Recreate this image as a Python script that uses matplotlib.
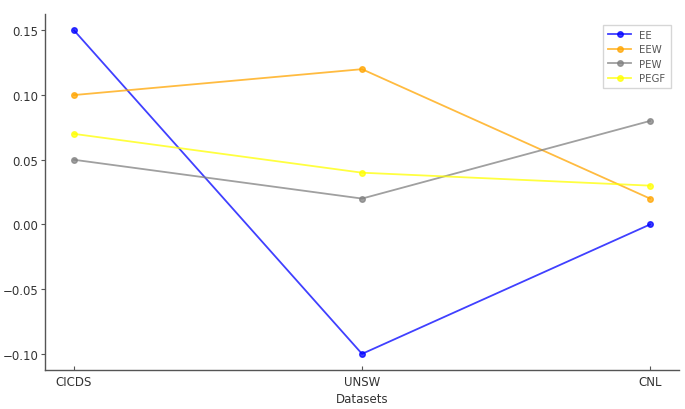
import matplotlib
matplotlib.use("Agg")
import matplotlib.pyplot as plt

datasets = ["CICDS", "UNSW", "CNL"]
ee = [0.15, -0.10, 0.00]
eew = [0.10, 0.12, 0.02]
pew = [0.05, 0.02, 0.08]
pegf = [0.07, 0.04, 0.03]

series = [("EE", ee, "#0000ff"), ("EEW", eew, "#ffa500"),
          ("PEW", pew, "#808080"), ("PEGF", pegf, "#ffff00")]

fig = plt.figure(figsize=(6.85, 4.1), dpi=100)
ax = fig.add_axes([0.066, 0.095, 0.925, 0.868])
for name, vals, c in series:
    ax.plot(datasets, vals, marker="o", markersize=4, linewidth=1.3,
            color=c, alpha=0.75, label=name)

for s in ["top", "right"]:
    ax.spines[s].set_visible(False)
for s in ["left", "bottom"]:
    ax.spines[s].set_color("#555555")
    ax.spines[s].set_linewidth(1.0)
ax.tick_params(axis="y", direction="out", length=3, pad=2, colors="#555555", labelcolor="#333333", labelsize=8.5)
ax.tick_params(axis="x", direction="in", length=3, colors="#555555", labelcolor="#333333", labelsize=8.5)
ax.set_xlabel("Datasets", fontsize=8.5, color="#333333", labelpad=3)
leg = ax.legend(loc="upper right", fontsize=7.3, frameon=True, fancybox=False,
                borderpad=0.5, handlelength=2.3, labelspacing=0.45,
                bbox_to_anchor=(0.995, 0.985))
leg.get_frame().set_edgecolor("#cccccc")
for t in leg.get_texts():
    t.set_color("#555555")
fig.savefig("out.png", dpi=100)
